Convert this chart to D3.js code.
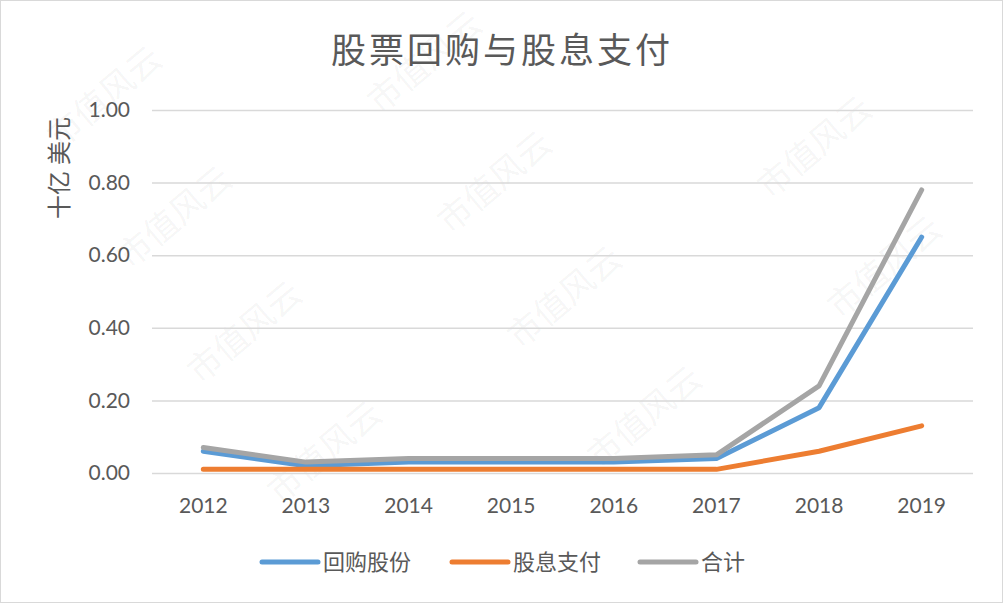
<!DOCTYPE html>
<html>
<head>
<meta charset="utf-8">
<script src="https://cdn.jsdelivr.net/npm/d3@7"></script>
<style>
  html, body { margin: 0; padding: 0; background: #fff; }
  svg { display: block; font-family: Lato, "Noto Sans CJK SC", sans-serif; }
</style>
</head>
<body>
<svg id="chart"></svg>
<script>
'use strict';

var years = ['2012', '2013', '2014', '2015', '2016', '2017', '2018', '2019'];
var buyback = [0.06, 0.02, 0.03, 0.03, 0.03, 0.04, 0.18, 0.65];
var dividend = [0.01, 0.01, 0.01, 0.01, 0.01, 0.01, 0.06, 0.13];
var total = [0.07, 0.03, 0.04, 0.04, 0.04, 0.05, 0.24, 0.78];
var yTicks = [0, 0.2, 0.4, 0.6, 0.8, 1.0];
var seriesNames = ['回购股份', '股息支付', '合计'];
var colors = ['#5B9BD5', '#ED7D31', '#A5A5A5'];

var W = 1003, H = 603,
  PLOT = { left: 152, right: 973, top: 110, bottom: 473 };

var svg = d3.select('#chart').attr('width', W).attr('height', H);

svg.append('rect')
  .attr('x', 0.5).attr('y', 0.5)
  .attr('width', W - 1).attr('height', H - 1)
  .attr('fill', '#fff').attr('stroke', '#d9d9d9');

// watermark
var marks = [[60, 150], [380, 115], [130, 270], [450, 235], [770, 200],
  [200, 385], [520, 350], [840, 320], [280, 505], [600, 470]];
svg.append('g')
  .selectAll('text')
  .data(marks)
  .join('text')
  .attr('transform', function(d) { return 'translate(' + d[0] + ',' + d[1] + ') rotate(-40)'; })
  .attr('fill', '#000')
  .attr('fill-opacity', 0.05)
  .attr('font-size', 34)
  .text('市值风云');

var xScale = d3.scaleBand()
  .domain(years)
  .range([PLOT.left, PLOT.right]);

var yScale = d3.scaleLinear()
  .domain([0, 1])
  .range([PLOT.bottom, PLOT.top]);

// gridlines + y labels
var yAxis = d3.axisLeft(yScale)
  .tickValues(yTicks)
  .tickSize(-(PLOT.right - PLOT.left))
  .tickPadding(22)
  .tickFormat(d3.format('.2f'));

svg.append('g')
  .attr('class', 'y axis')
  .attr('transform', 'translate(' + PLOT.left + ',0)')
  .call(yAxis)
  .call(function(g) {
    g.select('.domain').remove();
    g.selectAll('line').attr('stroke', '#d9d9d9').attr('stroke-width', 1.5);
    g.selectAll('text').attr('fill', '#595959').attr('font-size', 21)
      .attr('font-family', 'Lato, sans-serif');
  });

// x axis
var xAxis = d3.axisBottom(xScale)
  .tickSize(0)
  .tickPadding(25);

svg.append('g')
  .attr('class', 'x axis')
  .attr('transform', 'translate(0,' + PLOT.bottom + ')')
  .call(xAxis)
  .call(function(g) {
    g.select('.domain').remove();
    g.selectAll('text').attr('fill', '#595959').attr('font-size', 21)
      .attr('font-family', 'Lato, sans-serif');
  });

// lines
var line = d3.line()
  .x(function(d, i) { return xScale(years[i]) + xScale.bandwidth() / 2; })
  .y(function(d) { return yScale(d); });

[buyback, dividend, total].forEach(function(values, i) {
  svg.append('path')
    .datum(values)
    .attr('fill', 'none')
    .attr('stroke', colors[i])
    .attr('stroke-width', 5)
    .attr('stroke-linecap', 'round')
    .attr('stroke-linejoin', 'round')
    .attr('d', line);
});

// title
svg.append('text')
  .attr('x', 502).attr('y', 63)
  .attr('text-anchor', 'middle')
  .attr('fill', '#595959')
  .attr('font-size', 35)
  .attr('letter-spacing', 3)
  .text('股票回购与股息支付');

// y axis title
svg.append('text')
  .attr('transform', 'translate(68,168) rotate(-90)')
  .attr('text-anchor', 'middle')
  .attr('fill', '#595959')
  .attr('font-size', 24)
  .text('十亿 美元');

// legend
var legendX = [262, 452, 640];
var legend = svg.append('g').attr('class', 'legend');
seriesNames.forEach(function(name, i) {
  legend.append('line')
    .attr('x1', legendX[i]).attr('x2', legendX[i] + 56)
    .attr('y1', 562).attr('y2', 562)
    .attr('stroke', colors[i])
    .attr('stroke-width', 5)
    .attr('stroke-linecap', 'round');
  legend.append('text')
    .attr('x', legendX[i] + 61).attr('y', 570)
    .attr('fill', '#595959')
    .attr('font-size', 22)
    .text(name);
});
</script>
</body>
</html>
